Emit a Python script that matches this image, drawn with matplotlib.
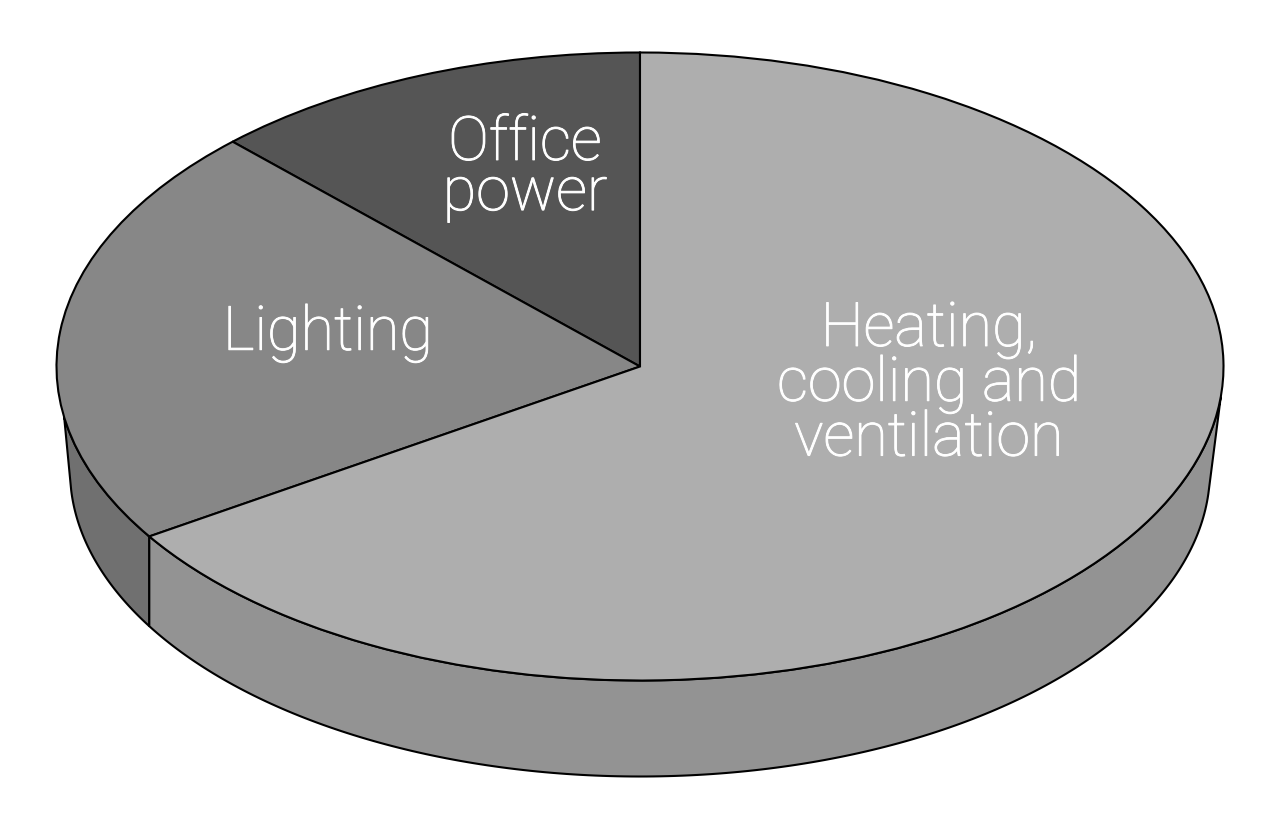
import numpy as np
import matplotlib
matplotlib.use('Agg')
import matplotlib.pyplot as plt
import matplotlib.patheffects as pe

labels = ['Office\npower', 'Lighting', 'Heating,\ncooling and\nventilation']
shares = [12.3, 21.8, 65.9]
top_colors = ['#555555', '#878787', '#aeaeae']
wall_colors = ['#707070', '#939393']

W, H = 1280, 837
cx, cy, rx, ry = 640, 367.5, 583.5, 314   # top ellipse in pixels
bx, by = 570 / rx, 306 / ry               # bottom ellipse scale
drop = 104 / ry

fig = plt.figure(figsize=(W / 100, H / 100), dpi=100)
ax = fig.add_axes([0, 0, 1, 1])

# angle where lighting meets heating on the top face
split = np.radians(90 + (shares[0] + shares[1]) * 3.6)
split_low = 2 * np.pi - np.arccos(np.cos(split) / bx)

# one side wall: along the top rim, then back along the bottom rim
def wall(top0, top1, low0, low1, color):
    t = np.linspace(top0, top1, 200)
    b = np.linspace(low1, low0, 200)
    xs = np.r_[np.cos(t), bx * np.cos(b)]
    ys = np.r_[np.sin(t), by * np.sin(b) - drop]
    ax.fill(xs, ys, facecolor=color, edgecolor='black', lw=1.5, zorder=1)

wall(np.radians(189.3), split, np.radians(183.7), split_low, wall_colors[0])
wall(split, np.radians(354.5), split_low, np.radians(356.3), wall_colors[1])

ax.pie(shares, colors=top_colors, startangle=90, counterclock=True,
       wedgeprops={'edgecolor': 'black', 'linewidth': 1.5, 'zorder': 3})

ax.set_aspect('auto')
ax.set_xlim(-cx / rx, (W - cx) / rx)
ax.set_ylim((cy - H) / ry, cy / ry)

label_px = [(525, 169), (328, 334), (929, 385)]
spacing = [0.83, 0.95, 0.92]
for lab, (px, py), sp in zip(labels, label_px, spacing):
    ax.text((px - cx) / rx, (cy - py) / ry, lab, color='white', ha='center', va='center',
            family='Roboto', fontweight='light', fontsize=44, linespacing=sp, zorder=5,
            path_effects=[pe.withStroke(linewidth=0.7, foreground='white')])

fig.savefig('out.png', dpi=100, facecolor='white')
